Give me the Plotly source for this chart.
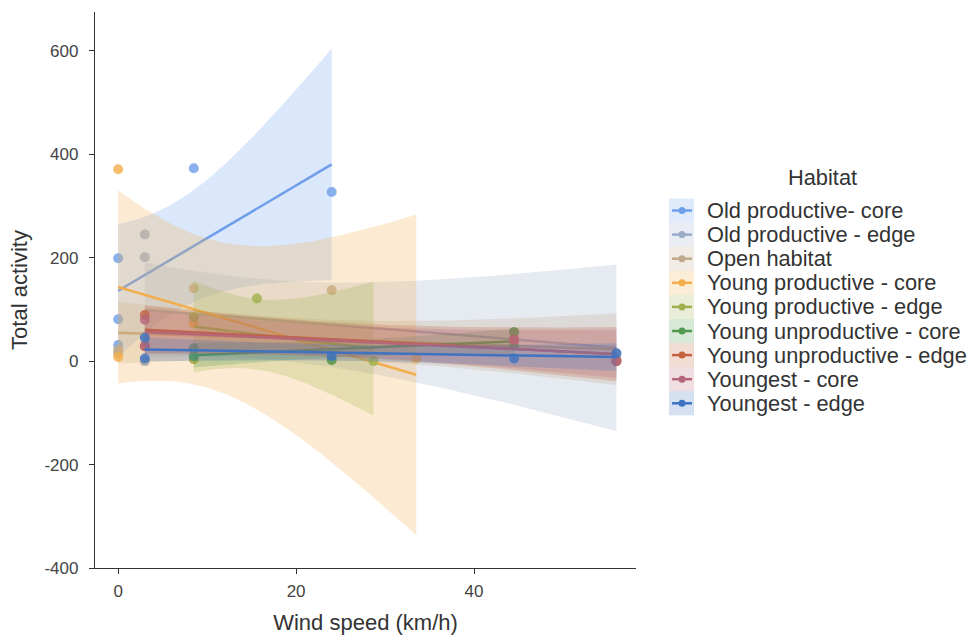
import numpy as np
import plotly.graph_objects as go

# ---------------- data ----------------
habitats = [
    "Old productive- core",
    "Old productive - edge",
    "Open habitat",
    "Young productive - core",
    "Young productive - edge",
    "Young unproductive - core",
    "Young unproductive - edge",
    "Youngest - core",
    "Youngest - edge",
]
colors = ["#6f9fea", "#9aabc8", "#bfa98c", "#f2ae4a", "#9fb04c",
          "#4f9a4f", "#c2623e", "#b5677a", "#3f72c0"]

wind_old_core = [0, 0, 0, 8.5, 24]
act_old_core = [199, 81, 31, 373, 327]

wind_old_edge = [3, 3, 3, 3, 3, 44.5, 56]
act_old_edge = [245, 201, 48, 0, 0, 56, 15]

wind_open = [0, 0, 8.5, 8.5, 24, 24, 44.5, 56, 56]
act_open = [22, 15, 141, 4, 137, 2, 41, 0, 5]

wind_young_core = [0, 0, 8.5, 8.5, 33.5]
act_young_core = [371, 8, 73, 4, 5]

wind_young_edge = [8.5, 8.5, 15.6, 28.7]
act_young_edge = [85, 4, 121, 0]

wind_yu_core = [8.5, 8.5, 24, 44.5, 44.5]
act_yu_core = [25, 10, 2, 56, 30]

wind_yu_edge = [3, 3, 44.5, 56]
act_yu_edge = [89, 29, 41, 0]

wind_youngest_core = [3, 3, 44.5, 56]
act_youngest_core = [80, 29, 41, 0]

wind_youngest_edge = [3, 3, 24, 44.5, 56]
act_youngest_edge = [45, 5, 10, 5, 15]

x_series = [wind_old_core, wind_old_edge, wind_open, wind_young_core, wind_young_edge,
            wind_yu_core, wind_yu_edge, wind_youngest_core, wind_youngest_edge]
y_series = [act_old_core, act_old_edge, act_open, act_young_core, act_young_edge,
            act_yu_core, act_yu_edge, act_youngest_core, act_youngest_edge]

x_ticks = [0, 20, 40]
y_ticks = [-400, -200, 0, 200, 400, 600]
y_tick_labels = ["-400", "-200", "0", "200", "400", "600"]


def rgba(hx, a):
    h = hx.lstrip("#")
    r, g, b = int(h[0:2], 16), int(h[2:4], 16), int(h[4:6], 16)
    return f"rgba({r},{g},{b},{a})"


def regression(x, y):
    x = np.asarray(x, float)
    y = np.asarray(y, float)
    n = len(x)
    xm, ym = x.mean(), y.mean()
    sxx = ((x - xm) ** 2).sum()
    b = ((x - xm) * (y - ym)).sum() / sxx
    a = ym - b * xm
    s = np.sqrt(((y - (a + b * x)) ** 2).sum() / (n - 2))
    grid = np.linspace(x.min(), x.max(), 100)
    yhat = a + b * grid
    se = s * np.sqrt(1.0 / n + (grid - xm) ** 2 / sxx)
    return grid, yhat, yhat - 1.96 * se, yhat + 1.96 * se


fig = go.Figure()

for name, col, xs, ys in zip(habitats, colors, x_series, y_series):
    grid, yhat, lo, hi = regression(xs, ys)
    fig.add_trace(go.Scatter(
        x=np.concatenate([grid, grid[::-1]]),
        y=np.concatenate([hi, lo[::-1]]),
        fill="toself", fillcolor=rgba(col, 0.25), mode="lines",
        line=dict(width=0), hoverinfo="skip", showlegend=False))
    fig.add_trace(go.Scatter(
        x=grid, y=yhat, mode="lines", line=dict(color=col, width=2.5),
        name=name, showlegend=False))
    fig.add_trace(go.Scatter(
        x=xs, y=ys, mode="markers",
        marker=dict(color=col, size=10, opacity=0.8, line=dict(width=0)),
        name=name, showlegend=False))

# ---------------- layout ----------------
L, R, T, B = 95, 339, 12, 67
W, H = 975, 635
pw, ph = W - L - R, H - T - B


def px_x(px):
    return (px - L) / pw


def px_y(py):
    return (H - B - py) / ph


font_family = "Liberation Sans, Arial, sans-serif"

fig.update_layout(
    width=W, height=H,
    margin=dict(l=L, r=R, t=T, b=B, autoexpand=False),
    paper_bgcolor="white", plot_bgcolor="white",
    font=dict(family=font_family, color="#333333"),
    showlegend=False,
    xaxis=dict(
        range=[-2.6, 58.2], tickvals=x_ticks, ticks="outside", ticklen=5,
        tickwidth=1.2, tickcolor="#333333", showline=True, linecolor="#333333",
        linewidth=1.3, showgrid=False, zeroline=False, automargin=False,
        tickfont=dict(size=17, color="#444444"), ticklabelstandoff=2,
        title=dict(text="Wind speed (km/h)", font=dict(size=22, color="#333333"), standoff=16),
    ),
    yaxis=dict(
        range=[-400, 675], tickvals=y_ticks, ticktext=y_tick_labels, ticks="outside",
        ticklen=5, tickwidth=1.2, tickcolor="#333333", showline=True,
        linecolor="#333333", linewidth=1.3, showgrid=False, zeroline=False, automargin=False,
        tickfont=dict(size=17, color="#444444"), ticklabelstandoff=7,
        title=dict(text="Total activity", font=dict(size=22, color="#333333"), standoff=10),
    ),
)

# ---------------- legend (drawn by hand to match spacing) ----------------
shapes = []
annotations = [dict(
    x=px_x(822), y=px_y(177), xref="paper", yref="paper", text="Habitat",
    showarrow=False, xanchor="center", yanchor="middle",
    font=dict(size=21.8, color="#333333"))]

row0, step = 210.5, 24.1
for i, (name, col) in enumerate(zip(habitats, colors)):
    cy = row0 + i * step
    shapes.append(dict(type="rect", xref="paper", yref="paper",
                       x0=px_x(669), x1=px_x(694), y0=px_y(cy - step / 2), y1=px_y(cy + step / 2),
                       fillcolor=rgba(col, 0.22), line=dict(width=0), layer="above"))
    shapes.append(dict(type="line", xref="paper", yref="paper",
                       x0=px_x(672), x1=px_x(692), y0=px_y(cy), y1=px_y(cy),
                       line=dict(color=col, width=2.5), layer="above"))
    shapes.append(dict(type="circle", xref="paper", yref="paper",
                       x0=px_x(678.5), x1=px_x(685.5), y0=px_y(cy - 3.5), y1=px_y(cy + 3.5),
                       fillcolor=col, line=dict(width=0), layer="above"))
    annotations.append(dict(
        x=px_x(705), y=px_y(cy), xref="paper", yref="paper", text=name,
        showarrow=False, xanchor="left", yanchor="middle",
        font=dict(size=21.8, color="#333333")))

fig.update_layout(shapes=shapes, annotations=annotations)

fig.write_html(
    "out.html",
    config={"displayModeBar": False},
    post_script="document.body.style.margin='0px';document.body.style.overflow='hidden';",
)
